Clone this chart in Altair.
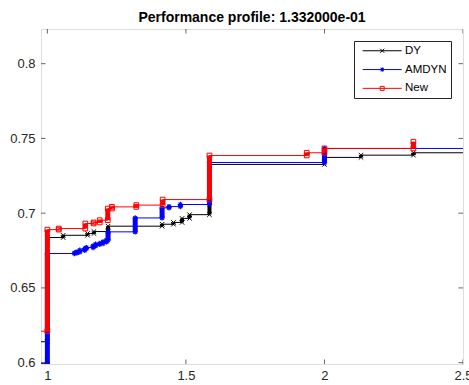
import altair as alt
import pandas as pd

# ---------------- data ----------------
SERIES = ["DY", "AMDYN", "New"]
COLORS = ["#000000", "#0000ff", "#ff0000"]

X_MIN, X_MAX = 0.977, 2.5
Y_MIN, Y_MAX = 0.5991, 0.8232
X_TICKS = [1, 1.5, 2, 2.5]
Y_TICKS = [0.6, 0.65, 0.7, 0.75, 0.8]

DY_START = 0.614
DY_X = [1.0, 1.057, 1.145, 1.168, 1.219, 1.414, 1.455, 1.486, 1.513, 1.585, 2.0, 2.132, 2.321]
DY_Y = [0.6837, 0.6852, 0.6864, 0.6877, 0.6913, 0.6926, 0.6938, 0.6965, 0.699, 0.7326, 0.7373, 0.7388, 0.7404]
DY_END = 2.5

AMDYN_START = 0.5995
AMDYN_X = [1.0, 1.098, 1.107, 1.117, 1.135, 1.141, 1.165, 1.174, 1.189, 1.201, 1.213, 1.219,
           1.317, 1.414, 1.439, 1.48, 1.585, 2.0]
AMDYN_Y = [0.673, 0.6734, 0.6741, 0.6752, 0.6763, 0.677, 0.6781, 0.6792, 0.6797, 0.6808, 0.6819, 0.6875,
           0.6968, 0.7036, 0.7044, 0.7058, 0.7339, 0.7433]
AMDYN_END = 2.5

NEW_START = 0.621
NEW_X = [1.0, 1.041, 1.137, 1.167, 1.189, 1.218, 1.233, 1.321, 1.416, 1.585, 1.936, 2.0, 2.321]
NEW_Y = [0.689, 0.6897, 0.6931, 0.6938, 0.6953, 0.7031, 0.7042, 0.7054, 0.7091, 0.7386, 0.7404, 0.7433, 0.7478]
NEW_END = 2.321

# ---------------- styling ----------------
FONT = "Liberation Sans"
AXIS_COLOR = "#262626"

MARKER_SHAPES = [
    "M-1,-1L1,1M-1,1L1,-1",
    "M0,-1V1M-1,0H1M-0.7,-0.7L0.7,0.7M-0.7,0.7L0.7,-0.7",
    "square",
]
MARKER_SIZES = [20, 28, 22]
MARKER_STROKES = [1, 1.2, 1]
COLUMN_WIDTHS = [4, 5, 5]

LEGEND_PATHS = [
    "M-1.05,0H37.95M16.45,-2L20.45,2M16.45,2L20.45,-2",
    "M-1.05,0H37.95M18.45,-2.2V2.2M16.25,0H20.65M16.9,-1.55L20,1.55M16.9,1.55L20,-1.55M17.45,-1H19.45V1H17.45Z",
    "M-1.05,0H37.95M16.45,-2H20.45V2H16.45Z",
]

xscale = alt.Scale(domain=[X_MIN, X_MAX], nice=False, zero=False)
yscale = alt.Scale(domain=[Y_MIN, Y_MAX], nice=False, zero=False)
xaxis = alt.Axis(values=X_TICKS, format="~g", ticks=False, domain=False, grid=False, title=None,
                 labelFontSize=13, labelFont=FONT, labelColor=AXIS_COLOR, labelPadding=5,
                 labelFlush=False)
yaxis = alt.Axis(values=Y_TICKS, format="~g", ticks=False, domain=False, grid=False, title=None,
                 labelFontSize=13, labelFont=FONT, labelColor=AXIS_COLOR, labelPadding=6)


def X(field="x"):
    return alt.X(f"{field}:Q", scale=xscale, axis=xaxis)


def Y(field="y"):
    return alt.Y(f"{field}:Q", scale=yscale, axis=yaxis)


def series_layers(k, start, xs, ys, end):
    color = COLORS[k]
    line_rows = [(X_MIN, start)] + list(zip(xs, ys)) + [(end, ys[-1])]
    line_df = pd.DataFrame({"x": [r[0] for r in line_rows], "y": [r[1] for r in line_rows],
                            "i": list(range(len(line_rows)))})
    prev = [start] + ys[:-1]
    col_df = pd.DataFrame({"x": xs, "y": prev, "y2": ys})
    mk_df = pd.DataFrame({"x": xs + xs, "y": prev + ys})

    line = alt.Chart(line_df).mark_line(interpolate="step-after", color=color, strokeWidth=1,
                                        clip=True).encode(x=X(), y=Y(), order="i:Q")
    cols = alt.Chart(col_df).mark_rule(color=color, strokeWidth=COLUMN_WIDTHS[k], clip=True).encode(
        x=X(), y=Y(), y2="y2:Q")
    pts = alt.Chart(mk_df).mark_point(shape=MARKER_SHAPES[k], size=MARKER_SIZES[k], color=color,
                                      filled=False, strokeWidth=MARKER_STROKES[k], opacity=1,
                                      clip=True).encode(x=X(), y=Y())
    return [line, cols, pts]


layers = []
layers += series_layers(0, DY_START, DY_X, DY_Y, DY_END)
layers += series_layers(1, AMDYN_START, AMDYN_X, AMDYN_Y, AMDYN_END)
layers += series_layers(2, NEW_START, NEW_X, NEW_Y, NEW_END)

# inward box ticks
xt_df = pd.DataFrame({"x": X_TICKS * 2, "y": [Y_MIN] * len(X_TICKS) + [Y_MAX] * len(X_TICKS)})
yt_df = pd.DataFrame({"x": [X_MIN] * len(Y_TICKS) + [X_MAX] * len(Y_TICKS), "y": Y_TICKS * 2})
xt = alt.Chart(xt_df).mark_tick(orient="vertical", size=9, thickness=1, color=AXIS_COLOR,
                                clip=True).encode(x=X(), y=Y())
yt = alt.Chart(yt_df).mark_tick(orient="horizontal", size=9, thickness=1, color=AXIS_COLOR,
                                clip=True).encode(x=X(), y=Y())
layers += [xt, yt]

# legend layer (invisible points, legend only)
leg = alt.Legend(orient="none", legendX=313, legendY=12, title=None, strokeColor=AXIS_COLOR,
                 fillColor="white", padding=4, symbolSize=4, symbolStrokeWidth=1, symbolOpacity=1,
                 labelFontSize=11.5, labelFont=FONT, labelColor="#000000", labelOffset=35.5,
                 rowPadding=5.8, cornerRadius=0)
leg_df = pd.DataFrame({"series": SERIES, "x": [DY_X[0], AMDYN_X[0], NEW_X[0]],
                       "y": [DY_Y[0], AMDYN_Y[0], NEW_Y[0]]})
legend_layer = alt.Chart(leg_df).mark_point(opacity=0, filled=False).encode(
    x=X(), y=Y(),
    color=alt.Color("series:N", scale=alt.Scale(domain=SERIES, range=COLORS), legend=leg),
    shape=alt.Shape("series:N", scale=alt.Scale(domain=SERIES, range=LEGEND_PATHS), legend=leg),
)
layers.append(legend_layer)

chart = alt.layer(*layers).properties(
    width=422, height=335,
    padding={"left": 41, "top": 29, "right": 6, "bottom": 21},
    autosize=alt.AutoSizeParams(type="none"),
    title=alt.Title("Performance profile: 1.332000e-01", fontSize=14, font=FONT, fontWeight="bold",
                    color="#000000", offset=4, anchor="middle"),
).configure_view(stroke=AXIS_COLOR, strokeWidth=1).configure(background="white")

chart.save("out.html", embed_options={"renderer": "svg", "actions": False})
